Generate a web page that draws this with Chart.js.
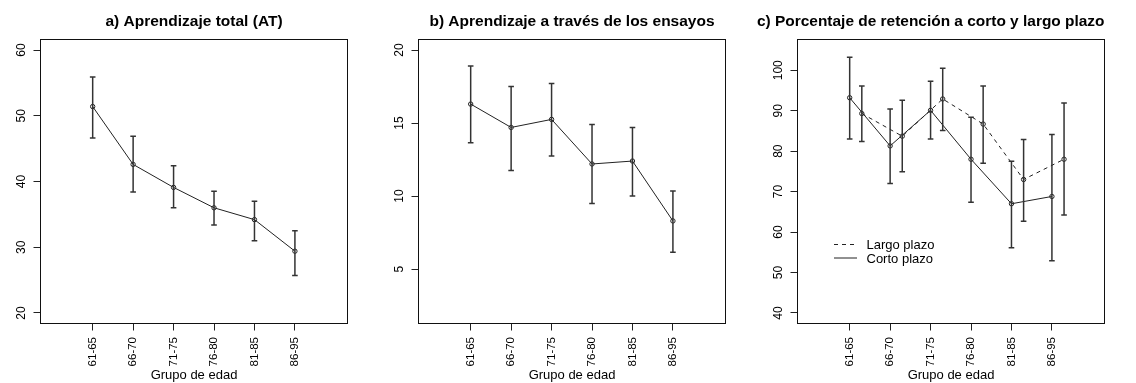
<!DOCTYPE html>
<html><head><meta charset="utf-8">
<script src="https://cdn.jsdelivr.net/npm/chart.js@4.4.1/dist/chart.umd.min.js"></script>
<style>
html,body{margin:0;padding:0;background:#fff;}
#wrap{position:relative;width:1136px;height:383px;overflow:hidden;background:#fff;}
canvas{position:absolute;top:0;}
</style></head><body>
<div id="wrap">
<canvas id="ca" width="379" height="383" style="left:0px"></canvas>
<canvas id="cb" width="378" height="383" style="left:378px"></canvas>
<canvas id="cc" width="379" height="383" style="left:757px"></canvas>
</div>
<script>
// ---- data ----
const categories = ['61-65','66-70','71-75','76-80','81-85','86-95'];

const atMean = [51.4, 42.6, 39.1, 36.0, 34.2, 29.4];
const atLow  = [46.6, 38.4, 36.0, 33.4, 31.0, 25.7];
const atHigh = [55.9, 46.9, 42.4, 38.5, 37.0, 32.5];

const ensMean = [16.3, 14.7, 15.25, 12.2, 12.4, 8.3];
const ensLow  = [13.65, 11.75, 12.75, 9.5, 10.0, 6.15];
const ensHigh = [18.9, 17.5, 17.7, 14.9, 14.7, 10.35];

const cortoMean = [93.2, 81.3, 90.1, 78.0, 67.0, 68.8];
const cortoLow  = [83.0, 72.0, 83.0, 67.4, 56.1, 52.9];
const cortoHigh = [103.2, 90.4, 97.3, 88.4, 77.5, 84.1];

const largoMean = [89.3, 83.7, 92.9, 86.7, 73.0, 78.0];
const largoLow  = [82.4, 74.9, 85.1, 77.0, 62.7, 64.2];
const largoHigh = [96.1, 92.6, 100.5, 96.1, 82.9, 91.9];

const yTicksA = [20, 30, 40, 50, 60];
const yTicksB = [5, 10, 15, 20];
const yTicksC = [40, 50, 60, 70, 80, 90, 100];

const titleA = 'a) Aprendizaje total (AT)';
const titleB = 'b) Aprendizaje a través de los ensayos';
const titleC = 'c) Porcentaje de retención a corto y largo plazo';
const xTitle = 'Grupo de edad';
const legendLabels = ['Largo plazo', 'Corto plazo'];

// ---- helpers ----
const FONT = "'Liberation Sans', Arial, sans-serif";
const LINE = '#222';
const ERR = '#333';
const largoShift = 0.3;

function meanData(means, shift) {
  return means.map((v, i) => ({ x: i + 1 + shift, y: v }));
}
function errData(lo, hi, shift) {
  const out = [];
  lo.forEach((v, i) => {
    out.push({ x: i + 1 + shift, y: v });
    out.push({ x: i + 1 + shift, y: hi[i] });
    out.push({ x: i + 1 + shift, y: null });
  });
  return out;
}
function errSet(lo, hi, shift) {
  return {
    data: errData(lo, hi, shift),
    borderColor: ERR, borderWidth: 1.5,
    pointStyle: 'line', pointRadius: 2.8, pointBorderWidth: 1.5,
    pointBorderColor: ERR, spanGaps: false, tension: 0
  };
}
function meanSet(means, shift, dash) {
  return {
    data: meanData(means, shift),
    borderColor: LINE, borderWidth: 1, borderDash: dash || [],
    pointStyle: 'circle', pointRadius: 2.2, pointBorderWidth: 1,
    pointBorderColor: LINE, pointBackgroundColor: 'rgba(0,0,0,0)', tension: 0
  };
}

const boxPlugin = {
  id: 'box',
  afterDraw(chart) {
    const a = chart.chartArea, c = chart.ctx;
    c.save();
    c.strokeStyle = '#111';
    c.lineWidth = 1;
    c.strokeRect(a.left, a.top, a.right - a.left, a.bottom - a.top);
    c.restore();
  }
};

const legendPlugin = {
  id: 'innerLegend',
  afterDraw(chart, args, opts) {
    if (!opts || !opts.show) return;
    const a = chart.chartArea, c = chart.ctx;
    c.save();
    c.strokeStyle = LINE; c.lineWidth = 1;
    const rows = [{ dash: [4, 4], y: 205 }, { dash: [], y: 218.5 }];
    rows.forEach((r, i) => {
      c.setLineDash(r.dash);
      c.beginPath();
      c.moveTo(a.left + 36.5, a.top + r.y);
      c.lineTo(a.left + 59.5, a.top + r.y);
      c.stroke();
      c.setLineDash([]);
      c.fillStyle = '#000';
      c.font = '13px ' + FONT;
      c.textAlign = 'left';
      c.textBaseline = 'middle';
      c.fillText(legendLabels[i], a.left + 69, a.top + r.y + 1);
    });
    c.restore();
  }
};

function makeChart(id, title, datasets, yTicks, yMin, yMax, yPad, titleFull, showLegend, rightPad) {
  return new Chart(document.getElementById(id), {
    type: 'line',
    data: { datasets },
    plugins: [boxPlugin, legendPlugin],
    options: {
      responsive: false, animation: false, devicePixelRatio: 1, events: [],
      layout: { padding: { left: 0, right: rightPad, top: 0, bottom: 0 } },
      plugins: {
        legend: { display: false }, tooltip: { enabled: false },
        innerLegend: { show: showLegend },
        title: {
          display: true, text: title, color: '#000', fullSize: titleFull,
          font: { family: FONT, size: 15.5, weight: 'bold', lineHeight: 1.2 },
          padding: { top: 12, bottom: 8.9 }
        }
      },
      scales: {
        x: {
          type: 'linear', min: -0.29, max: 7.3,
          afterBuildTicks: s => { s.ticks = categories.map((c, i) => ({ value: i + 1 })); },
          afterFit: s => { s.height = 59.5; },
          ticks: {
            autoSkip: false, minRotation: 90, maxRotation: 90, padding: 6.5,
            color: '#000', font: { family: FONT, size: 11.5 },
            callback: v => categories[Math.round(v) - 1]
          },
          grid: { display: true, drawOnChartArea: false, drawTicks: true, tickLength: 7, color: LINE, lineWidth: 1 },
          border: { display: false },
          title: { display: true, text: xTitle, color: '#000', font: { family: FONT, size: 13, lineHeight: 1.2 }, padding: { top: 0, bottom: 0 } }
        },
        y: {
          type: 'linear', min: yMin, max: yMax,
          afterBuildTicks: s => { s.ticks = yTicks.map(v => ({ value: v })); },
          afterFit: s => { s.width = 40.5; },
          ticks: {
            minRotation: 90, maxRotation: 90, crossAlign: 'center', padding: yPad,
            color: '#000', font: { family: FONT, size: 12 }
          },
          grid: { display: true, drawOnChartArea: false, drawTicks: true, tickLength: 7, color: LINE, lineWidth: 1 },
          border: { display: false }
        }
      }
    }
  });
}

makeChart('ca', titleA,
  [errSet(atLow, atHigh, 0), meanSet(atMean, 0)],
  yTicksA, 18.4, 61.6, 5.6, false, false, 379 - 347.5);

makeChart('cb', titleB,
  [errSet(ensLow, ensHigh, 0), meanSet(ensMean, 0)],
  yTicksB, 1.28, 20.72, 5.6, false, false, 378 - 347.5);

makeChart('cc', titleC,
  [errSet(cortoLow, cortoHigh, 0), errSet(largoLow, largoHigh, largoShift),
   meanSet(cortoMean, 0), meanSet(largoMean, largoShift, [4, 4])],
  yTicksC, 37.4, 107.6, 2.3, true, true, 379 - 347.5);
</script>
</body></html>
